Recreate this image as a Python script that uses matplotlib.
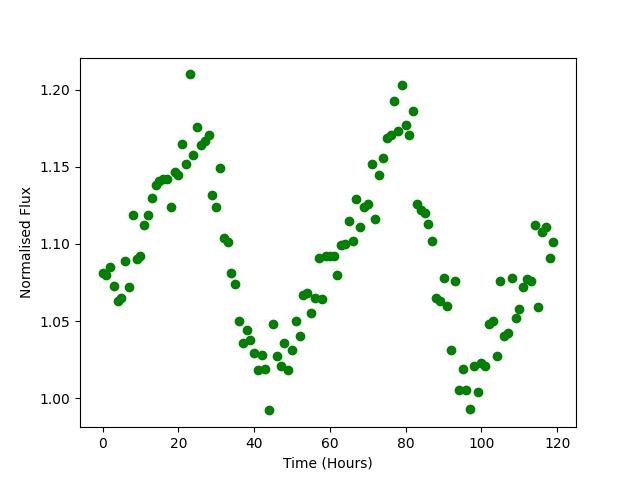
import numpy as np
import matplotlib
matplotlib.use("Agg")
import matplotlib.pyplot as plt

# czas w godzinach, jeden pomiar na godzine
czas = np.arange(120)

strumien = [
    1.081, 1.080, 1.085, 1.073, 1.063, 1.065, 1.089, 1.072, 1.119, 1.090,
    1.092, 1.112, 1.119, 1.130, 1.138, 1.141, 1.142, 1.142, 1.124, 1.147,
    1.145, 1.165, 1.152, 1.210, 1.158, 1.176, 1.164, 1.167, 1.171, 1.132,
    1.124, 1.149, 1.104, 1.101, 1.081, 1.074, 1.050, 1.036, 1.044, 1.038,
    1.029, 1.018, 1.028, 1.019, 0.992, 1.048, 1.027, 1.021, 1.036, 1.018,
    1.031, 1.050, 1.040, 1.067, 1.068, 1.055, 1.065, 1.091, 1.064, 1.092,
    1.092, 1.092, 1.080, 1.099, 1.100, 1.115, 1.102, 1.129, 1.111, 1.124,
    1.126, 1.152, 1.116, 1.145, 1.156, 1.169, 1.171, 1.193, 1.173, 1.203,
    1.177, 1.171, 1.186, 1.126, 1.122, 1.120, 1.113, 1.102, 1.065, 1.063,
    1.078, 1.060, 1.031, 1.076, 1.005, 1.019, 1.005, 0.993, 1.021, 1.004,
    1.023, 1.021, 1.048, 1.050, 1.027, 1.076, 1.040, 1.042, 1.078, 1.052,
    1.058, 1.072, 1.077, 1.076, 1.112, 1.059, 1.108, 1.111, 1.091, 1.101,
]

plt.figure(figsize=(6.4, 4.8), dpi=100)
plt.plot(czas, strumien, "go")
plt.xlabel("Time (Hours)")
plt.ylabel("Normalised Flux")
plt.savefig("out.png", dpi=100)
